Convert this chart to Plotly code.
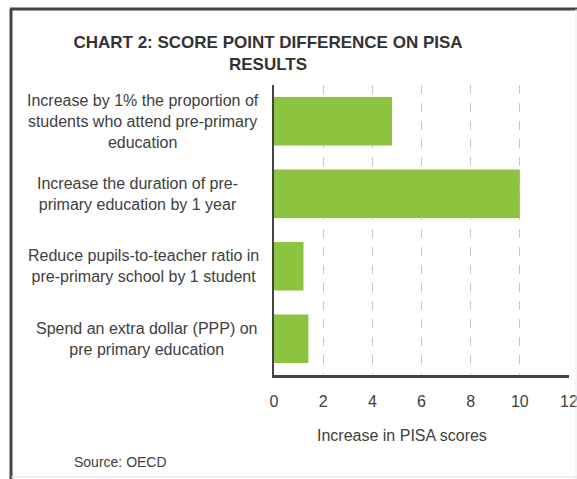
import plotly.graph_objects as go

categories = [
    "Increase by 1% the proportion of<br>students who attend pre-primary<br>education",
    "Increase the duration of pre-<br>primary education by 1 year",
    "Reduce pupils-to-teacher ratio in<br>pre-primary school by 1 student",
    "Spend an extra dollar (PPP) on<br>pre primary education",
]
values = [4.8, 10.0, 1.2, 1.4]
tick_vals = [0, 2, 4, 6, 8, 10, 12]
tick_text = ["0", "2", "4", "6", "8", "10", "12"]

W, H = 577, 479
L, R, T, B = 274, 8, 85, 104
pw, ph = W - L - R, H - T - B

def px_x(px):
    return (px - L) / pw

def px_y(py):
    return (H - B - py) / ph

FONT = "Arial, Liberation Sans, sans-serif"
TXT = "#404040"
label_centres_px = [143, 137, 143, 146]

fig = go.Figure()
fig.add_trace(go.Bar(
    x=values, y=categories, orientation="h",
    marker=dict(color="#8dc43f", line=dict(width=0)),
    hoverinfo="x+y",
))

annotations = []
for cat, cx in zip(categories, label_centres_px):
    annotations.append(dict(
        x=px_x(cx), xref="paper", y=cat, yref="y", text=cat,
        showarrow=False, xanchor="center", yanchor="middle", align="center",
        font=dict(family=FONT, size=16, color=TXT),
    ))
annotations.append(dict(
    x=px_x(402), xref="paper", y=px_y(435), yref="paper",
    text="Increase in PISA scores", showarrow=False,
    xanchor="center", yanchor="middle",
    font=dict(family=FONT, size=16, color=TXT),
))
annotations.append(dict(
    x=px_x(120), xref="paper", y=px_y(462), yref="paper",
    text="Source: OECD", showarrow=False,
    xanchor="center", yanchor="middle",
    font=dict(family=FONT, size=14, color=TXT),
))

shapes = [
    # outer frame
    dict(type="line", xref="paper", yref="paper", x0=px_x(11), x1=px_x(11), y0=px_y(9), y1=px_y(479),
         line=dict(color="#444444", width=3)),
    dict(type="line", xref="paper", yref="paper", x0=px_x(10), x1=px_x(577), y0=px_y(9), y1=px_y(9),
         line=dict(color="#444444", width=3)),
    dict(type="line", xref="paper", yref="paper", x0=px_x(576), x1=px_x(576), y0=px_y(9), y1=px_y(479),
         line=dict(color="#ececec", width=1)),
    dict(type="line", xref="paper", yref="paper", x0=px_x(11), x1=px_x(577), y0=px_y(477), y1=px_y(477),
         line=dict(color="#e4e4e4", width=1)),
]

fig.update_layout(
    width=W, height=H,
    margin=dict(l=L, r=R, t=T, b=B, autoexpand=False),
    paper_bgcolor="white", plot_bgcolor="white",
    showlegend=False,
    bargap=0.33,
    title=dict(
        text="<b>CHART 2: SCORE POINT DIFFERENCE ON PISA<br>RESULTS</b>",
        x=268 / W, xanchor="center", y=1 - 48 / H, yanchor="middle",
        font=dict(family=FONT, size=17, color="#333333"),
    ),
    xaxis=dict(
        range=[0, 12], tickvals=tick_vals, ticktext=tick_text,
        showgrid=True, gridcolor="#c8c8c8", griddash="dash", gridwidth=1,
        zeroline=False, showline=True, linecolor="#444444", linewidth=3,
        ticks="", ticklabelstandoff=10, ticklabeloverflow="allow",
        tickfont=dict(family=FONT, size=16, color=TXT),
        fixedrange=True,
    ),
    yaxis=dict(
        autorange="reversed", showticklabels=False, showgrid=False,
        showline=True, linecolor="#444444", linewidth=2, ticks="",
        zeroline=False, fixedrange=True,
    ),
    annotations=annotations,
    shapes=shapes,
)

fig.write_html(
    "out.html",
    config=dict(displayModeBar=False),
    post_script="document.body.style.margin='0';document.body.style.overflow='hidden';",
)
